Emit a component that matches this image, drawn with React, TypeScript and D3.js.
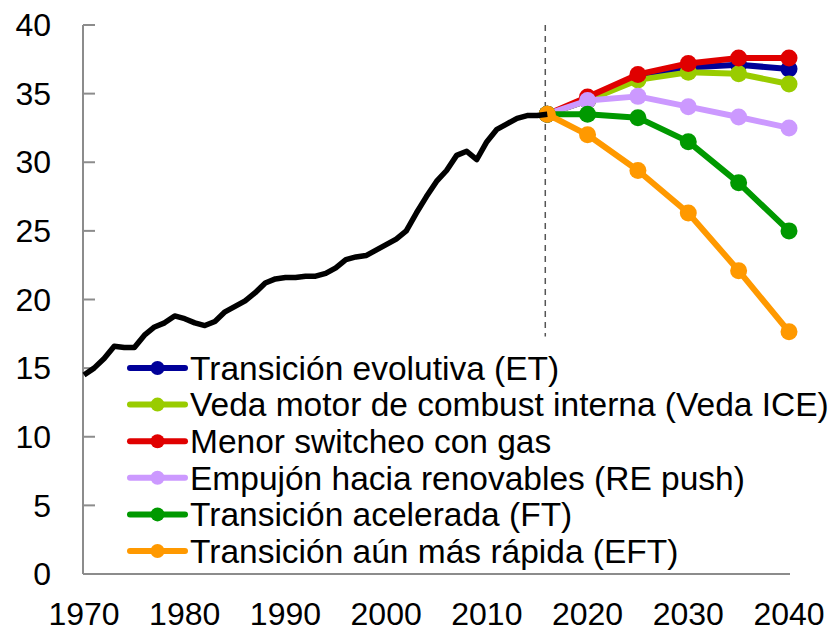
import React from "react";
import * as d3 from "d3";

const histYears: number[] = d3.range(1970, 2017);
const histValues: number[] = [
  14.5, 15.0, 15.7, 16.6, 16.5, 16.5, 17.4, 18.0, 18.3, 18.8,
  18.6, 18.3, 18.1, 18.4, 19.1, 19.5, 19.9, 20.5, 21.2, 21.5,
  21.6, 21.6, 21.7, 21.7, 21.9, 22.3, 22.9, 23.1, 23.2, 23.6,
  24.0, 24.4, 25.0, 26.3, 27.5, 28.6, 29.4, 30.5, 30.8, 30.2,
  31.5, 32.4, 32.8, 33.2, 33.4, 33.4, 33.5,
];

const scenYears: number[] = [2016, 2020, 2025, 2030, 2035, 2040];
const seriesNames: string[] = [
  "Transición evolutiva (ET)",
  "Veda motor de combust interna (Veda ICE)",
  "Menor switcheo con gas",
  "Empujón hacia renovables (RE push)",
  "Transición acelerada (FT)",
  "Transición aún más rápida (EFT)",
];
const seriesColors: string[] = ["#000099", "#99CC00", "#E00000", "#CC99FF", "#009900", "#FF9900"];
const etValues: number[] = [33.5, 34.5, 36.2, 36.9, 37.1, 36.8];
const vedaValues: number[] = [33.5, 34.5, 36.0, 36.55, 36.45, 35.7];
const gasValues: number[] = [33.5, 34.75, 36.4, 37.2, 37.6, 37.6];
const reValues: number[] = [33.5, 34.5, 34.8, 34.05, 33.3, 32.5];
const ftValues: number[] = [33.5, 33.5, 33.25, 31.5, 28.5, 25.0];
const eftValues: number[] = [33.5, 32.0, 29.4, 26.3, 22.1, 17.65];
const seriesValues: number[][] = [etValues, vedaValues, gasValues, reValues, ftValues, eftValues];

const yTicks: number[] = [0, 5, 10, 15, 20, 25, 30, 35, 40];
const xTicks: number[] = [1970, 1980, 1990, 2000, 2010, 2020, 2030, 2040];
const dividerYear = 2016;
const dividerRange: number[] = [40, 17.3];

const W = 837;
const H = 632;
const FONT = "'Liberation Sans', Arial, sans-serif";

export default function App() {
  const x = d3.scaleLinear().domain([1970, 2040]).range([84, 789]);
  const y = d3.scaleLinear().domain([0, 40]).range([574, 25]);
  const line = d3
    .line<[number, number]>()
    .x((d) => x(d[0]))
    .y((d) => y(d[1]));

  const histPts: [number, number][] = histYears.map((yr, i) => [yr, histValues[i]]);

  const legendX0 = 130;
  const legendX1 = 185;
  const legendTextX = 190;
  const legendY0 = 368;
  const legendStep = 36.6;

  return (
    <svg
      width={W}
      height={H}
      style={{ position: "absolute", left: 0, top: 0, background: "#fff" }}
      fontFamily={FONT}
    >
      <rect x={0} y={0} width={W} height={H} fill="#fff" />
      {/* axes */}
      <line x1={83} x2={83} y1={y(40)} y2={y(0)} stroke="#8c8c8c" strokeWidth={2} />
      <line x1={83} x2={790} y1={y(0)} y2={y(0)} stroke="#8c8c8c" strokeWidth={2} />
      {yTicks.map((t) => (
        <g key={"yt" + t}>
          <line x1={83} x2={95} y1={y(t)} y2={y(t)} stroke="#8c8c8c" strokeWidth={2} />
          <text x={51} y={y(t)} dy="0.35em" textAnchor="end" fontSize={32} fill="#000">
            {t}
          </text>
        </g>
      ))}
      {xTicks.map((t) => (
        <text key={"xt" + t} x={x(t)} y={625} textAnchor="middle" fontSize={32} fill="#000">
          {t}
        </text>
      ))}
      {/* divider */}
      <line
        x1={x(dividerYear) - 2}
        x2={x(dividerYear) - 2}
        y1={y(dividerRange[0])}
        y2={y(dividerRange[1])}
        stroke="#555"
        strokeWidth={1.5}
        strokeDasharray="6,5"
      />
      {/* scenarios */}
      {seriesValues.map((vals, si) => {
        const pts: [number, number][] = scenYears.map((yr, i) => [yr, vals[i]]);
        return (
          <g key={"s" + si}>
            <path d={line(pts) || ""} fill="none" stroke={seriesColors[si]} strokeWidth={6} strokeLinejoin="round" />
            {pts.map((p, i) => (
              <circle key={i} cx={x(p[0])} cy={y(p[1])} r={8.5} fill={seriesColors[si]} />
            ))}
          </g>
        );
      })}
      {/* history */}
      <path d={line(histPts) || ""} fill="none" stroke="#000" strokeWidth={5.5} strokeLinejoin="round" />
      {/* legend */}
      {seriesNames.map((name, i) => {
        const ly = legendY0 + i * legendStep;
        return (
          <g key={"lg" + i}>
            <line x1={legendX0} x2={legendX1} y1={ly} y2={ly} stroke={seriesColors[i]} strokeWidth={6} strokeLinecap="round" />
            <circle cx={(legendX0 + legendX1) / 2} cy={ly} r={7} fill={seriesColors[i]} />
            <text x={legendTextX} y={ly} dy="0.35em" fontSize={33.5} fill="#000">
              {name}
            </text>
          </g>
        );
      })}
    </svg>
  );
}
